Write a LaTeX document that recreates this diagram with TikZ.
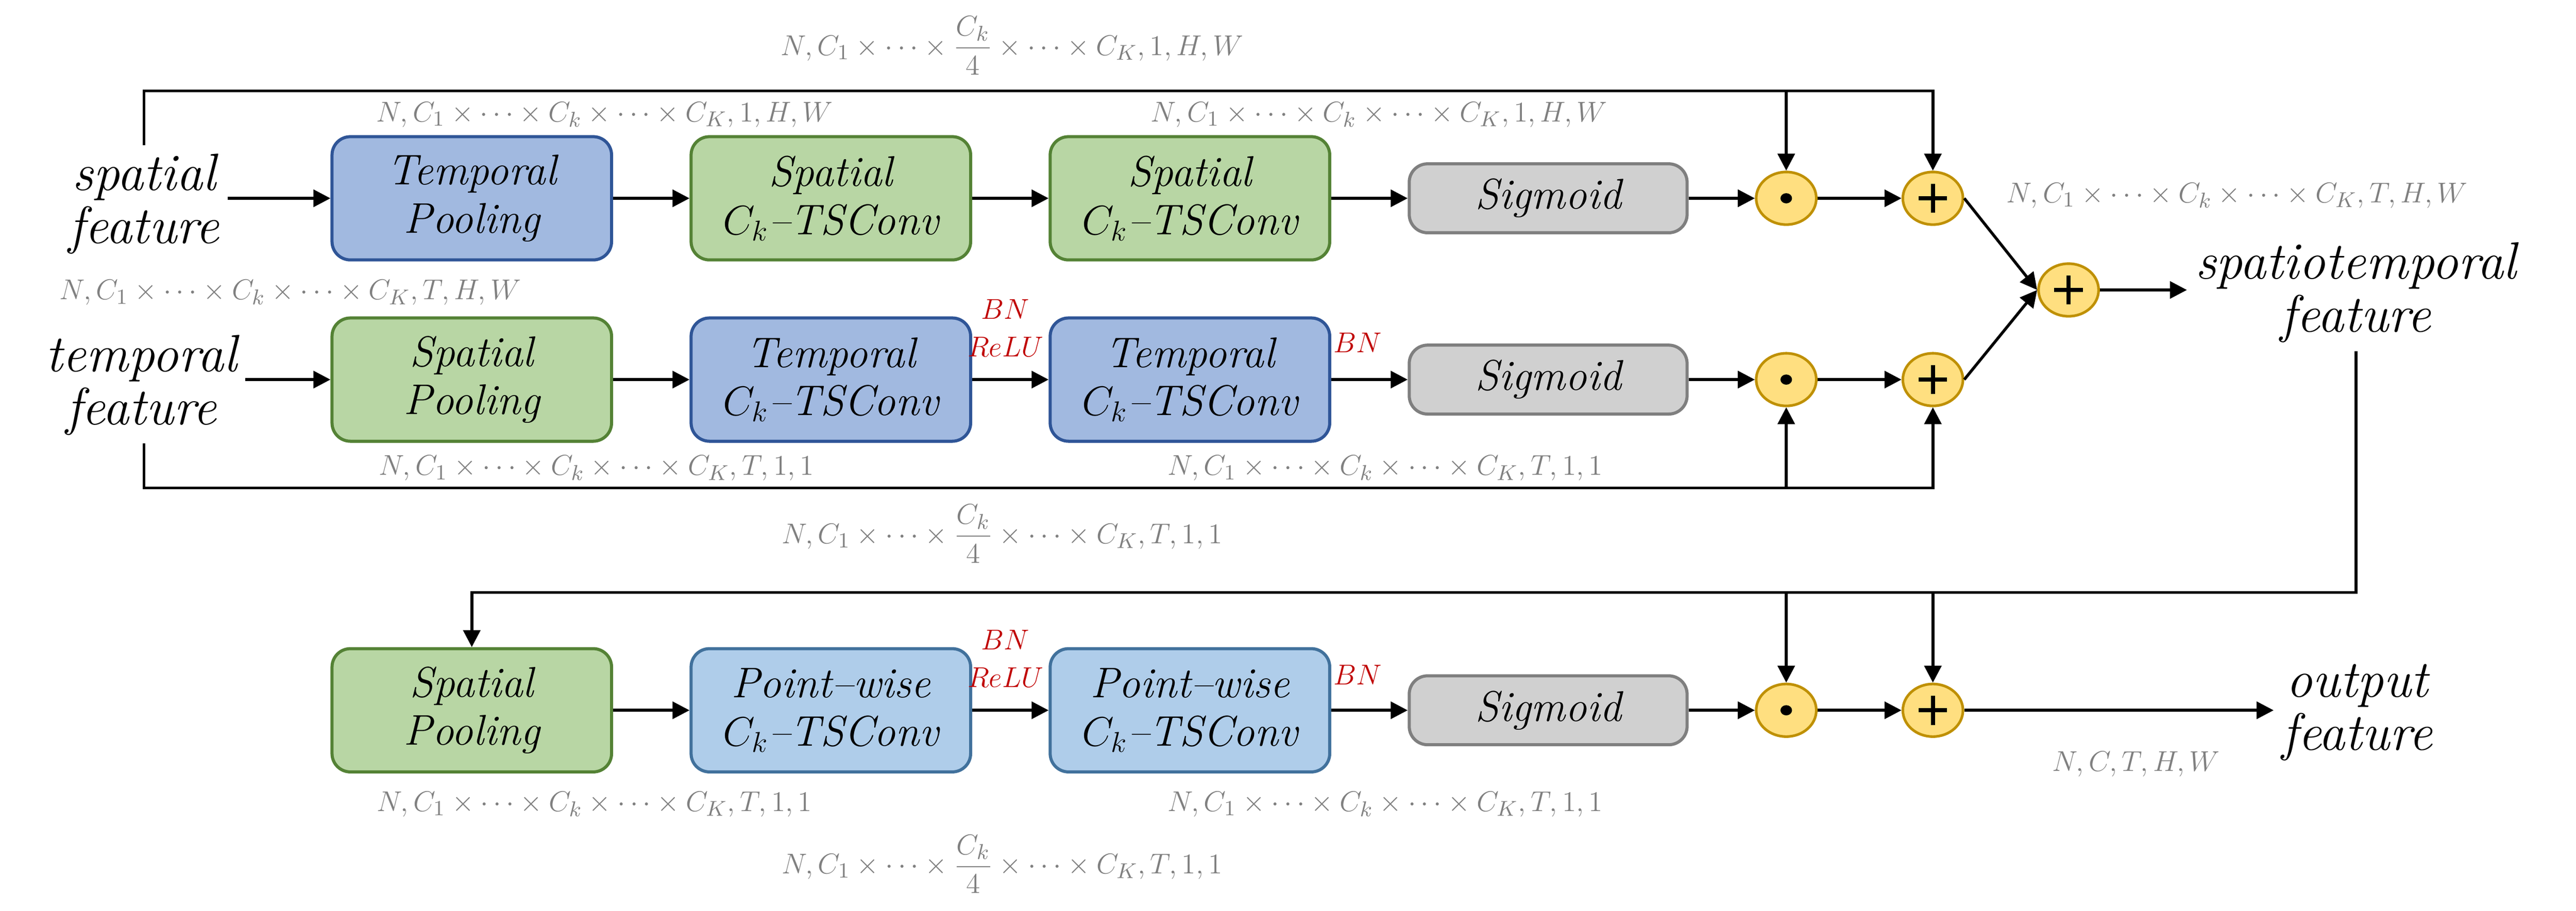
\documentclass[tikz,border=0pt]{standalone}
\usepackage{amsmath,amssymb}
\usepackage{tikz}
\usetikzlibrary{positioning,arrows.meta,shapes.geometric}

\definecolor{tpfill}{HTML}{A1B9E0}
\definecolor{tpdraw}{HTML}{2F5597}
\definecolor{spfill}{HTML}{B8D6A4}
\definecolor{spdraw}{HTML}{548235}
\definecolor{pwfill}{HTML}{AFCDEA}
\definecolor{pwdraw}{HTML}{41719C}
\definecolor{sgfill}{HTML}{D0D0D0}
\definecolor{sgdraw}{HTML}{7F7F7F}
\definecolor{opfill}{HTML}{FFDF80}
\definecolor{opdraw}{HTML}{BF9000}
\definecolor{dimgray}{HTML}{808080}
\definecolor{bnred}{HTML}{C00000}

\begin{document}
\begin{tikzpicture}[node distance=1.125cm,
  box/.style={rounded corners=0.27cm, line width=1.3pt, minimum width=4.115cm,
    minimum height=1.815cm, align=center, font=\fontsize{18}{20.2}\selectfont\itshape},
  tbox/.style={box, draw=tpdraw, fill=tpfill},
  gbox/.style={box, draw=spdraw, fill=spfill},
  lbox/.style={box, draw=pwdraw, fill=pwfill},
  sbox/.style={box, draw=sgdraw, fill=sgfill, minimum width=4.09cm, minimum height=1.015cm},
  op/.style={ellipse, draw=opdraw, fill=opfill, line width=1.1pt, minimum width=0.885cm,
    minimum height=0.775cm, inner sep=0pt},
  opdot/.style={op, path picture={\fill[black] (path picture bounding box.center) ellipse (0.085cm and 0.075cm);}},
  opplus/.style={op, path picture={\draw[black, line width=1.8pt] (path picture bounding box.center)
    +(-0.21,0) -- +(0.21,0) +(0,-0.215) -- +(0,0.215);}},
  feat/.style={align=center, font=\fontsize{22}{22.2}\selectfont\itshape},
  dim/.style={text=dimgray, font=\fontsize{12.7}{15}\selectfont},
  bn/.style={text=bnred, align=center, font=\fontsize{12.5}{15.6}\selectfont},
  arr/.style={-{Triangle[length=0.25cm,width=0.25cm]}, line width=1.2pt}]

  \useasboundingbox (0,0) rectangle (37.92,-13.41);

  % spatial branch
  \node[feat]                    (spf) at (2.12,-3.0)   {spatial\\feature};
  \node[tbox]                    (tp1) at (6.945,-2.92) {Temporal\\Pooling};
  \node[gbox, right=of tp1]      (sc1) {Spatial\\$C_k$--TSConv};
  \node[gbox, right=of sc1]      (sc2) {Spatial\\$C_k$--TSConv};
  \node[sbox, right=of sc2]      (sg1) {Sigmoid};
  \node[opdot, right=0.975cm of sg1] (dt1) {};
  \node[opplus, right=1.235cm of dt1] (pl1) {};

  % temporal branch
  \node[feat]                    (tmf) at (2.08,-5.67)  {temporal\\feature};
  \node[gbox]                    (sp2) at (6.945,-5.59) {Spatial\\Pooling};
  \node[tbox, right=of sp2]      (tc1) {Temporal\\$C_k$--TSConv};
  \node[tbox, right=of tc1]      (tc2) {Temporal\\$C_k$--TSConv};
  \node[sbox, right=of tc2]      (sg2) {Sigmoid};
  \node[opdot, right=0.975cm of sg2] (dt2) {};
  \node[opplus, right=1.235cm of dt2] (pl2) {};

  \node[opplus]                  (plF) at (30.45,-4.27) {};
  \node[feat]                    (stf) at (34.68,-4.31) {spatiotemporal\\feature};

  % point-wise branch
  \node[gbox]                    (sp3) at (6.945,-10.46) {Spatial\\Pooling};
  \node[lbox, right=of sp3]      (pw1) {Point--wise\\$C_k$--TSConv};
  \node[lbox, right=of pw1]      (pw2) {Point--wise\\$C_k$--TSConv};
  \node[sbox, right=of pw2]      (sg3) {Sigmoid};
  \node[opdot, right=0.975cm of sg3] (dt3) {};
  \node[opplus, right=1.235cm of dt3] (pl3) {};
  \node[feat]                    (otf) at (34.7,-10.49) {output\\feature};

  \coordinate (topl) at (0,-1.34);
  \coordinate (botl) at (0,-7.185);
  \coordinate (midl) at (0,-8.725);

  \path[arr]
    (tp1) edge (sc1)  (sc1) edge (sc2)  (sc2) edge (sg1)  (sg1) edge (dt1)  (dt1) edge (pl1)
    (sp2) edge (tc1)  (tc1) edge (tc2)  (tc2) edge (sg2)  (sg2) edge (dt2)  (dt2) edge (pl2)
    (sp3) edge (pw1)  (pw1) edge (pw2)  (pw2) edge (sg3)  (sg3) edge (dt3)  (dt3) edge (pl3)
    (pl1.east) edge (plF.west)  (pl2.east) edge (plF.west);

  \draw[arr] (spf.east |- tp1.west) -- (tp1.west);
  \draw[arr] (tmf.east |- sp2.west) -- (sp2.west);
  \draw[arr] (spf.north) |- (pl1.north |- topl) -- (pl1.north);
  \draw[arr] (dt1.north |- topl) -- (dt1.north);
  \draw[arr] (spf.south |- tmf.south) |- (pl2.south |- botl) -- (pl2.south);
  \draw[arr] (dt2.south |- botl) -- (dt2.south);
  \draw[arr] (plF) -- (stf.west |- plF);
  \draw[arr] (stf.south) |- (sp3.north |- midl) -- (sp3.north);
  \draw[arr] (dt3.north |- midl) -- (dt3.north);
  \draw[arr] (pl3.north |- midl) -- (pl3.north);
  \draw[arr] (pl3) -- (otf.west |- pl3);

  % tensor shapes
  \node[dim] (d0) at (14.9,-0.67)   {$N, C_1\times\cdots\times\dfrac{C_k}{4}\times\cdots\times C_K, 1, H, W$};
  \node[dim] (d1) at (8.9,-1.69)    {$N, C_1\times\cdots\times C_k\times\cdots\times C_K, 1, H, W$};
  \node[dim] (d2) at (20.3,-1.69)   {$N, C_1\times\cdots\times C_k\times\cdots\times C_K, 1, H, W$};
  \node[dim] (d3) at (32.93,-2.88)  {$N, C_1\times\cdots\times C_k\times\cdots\times C_K, T, H, W$};
  \node[dim] (d4) at (4.275,-4.31)  {$N, C_1\times\cdots\times C_k\times\cdots\times C_K, T, H, W$};
  \node[dim] (d5) at (8.78,-6.895)  {$N, C_1\times\cdots\times C_k\times\cdots\times C_K, T, 1,1$};
  \node[dim] (d6) at (20.39,-6.895) {$N, C_1\times\cdots\times C_k\times\cdots\times C_K, T, 1,1$};
  \node[dim] (d7) at (14.75,-7.86)  {$N, C_1\times\cdots\times\dfrac{C_k}{4}\times\cdots\times C_K, T, 1,1$};
  \node[dim] (d8) at (8.75,-11.845) {$N, C_1\times\cdots\times C_k\times\cdots\times C_K, T, 1,1$};
  \node[dim] (d9) at (20.39,-11.845){$N, C_1\times\cdots\times C_k\times\cdots\times C_K, T, 1,1$};
  \node[dim] (d10) at (14.75,-12.725){$N, C_1\times\cdots\times\dfrac{C_k}{4}\times\cdots\times C_K, T, 1,1$};
  \node[dim] (d11) at (31.445,-11.25){$N, C, T, H, W$};

  % normalisation
  \node[bn] (bn1) at (14.8,-4.83)   {$BN$\\$ReLU$};
  \node[bn] (bn2) at (19.985,-5.045) {$BN$};
  \node[bn] (bn3) at (14.8,-9.7)    {$BN$\\$ReLU$};
  \node[bn] (bn4) at (19.985,-9.935) {$BN$};
\end{tikzpicture}
\end{document}
